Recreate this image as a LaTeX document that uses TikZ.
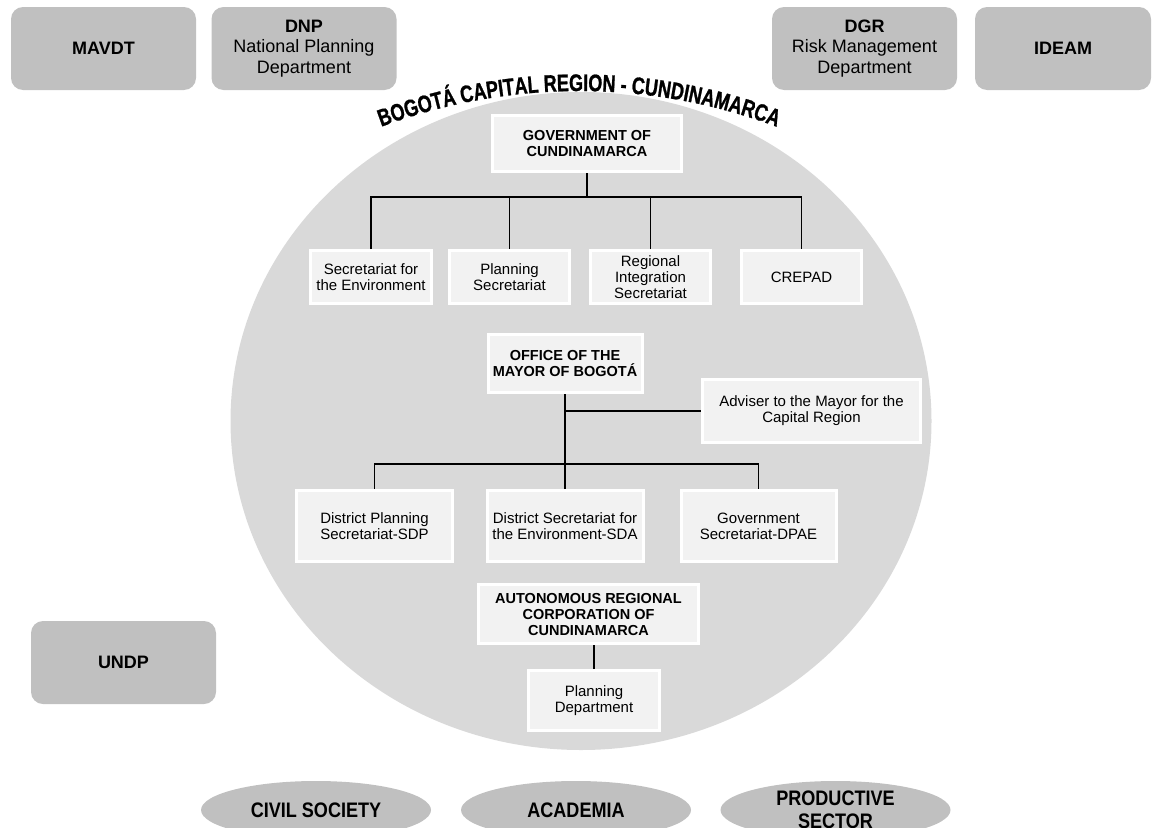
\documentclass[tikz,border=0pt]{standalone}
\usepackage{fontspec}
\setmainfont{Liberation Sans}
\newfontfamily\narrowbold{Liberation Sans}[UprightFont=* Bold, FakeStretch=0.86]
\newfontfamily\titlefont{Liberation Sans}[UprightFont=* Bold, FakeStretch=0.75, FakeBold=1]
\usetikzlibrary{shapes.geometric,decorations.text}
\definecolor{regionfill}{HTML}{D9D9D9}
\definecolor{boxfill}{HTML}{F2F2F2}
\definecolor{orgfill}{HTML}{C0C0C0}
\begin{document}
\begin{tikzpicture}[x=1pt,y=1pt,
  orgbox/.style={rectangle, rounded corners=12pt, fill=orgfill, inner sep=0pt, minimum width=185pt, minimum height=83pt, align=center, font=\fontsize{18}{20.5}\selectfont},
  ibox/.style={rectangle, fill=boxfill, draw=white, line width=3pt, inner sep=0pt, align=center, font=\fontsize{15}{16}\selectfont},
  bbox/.style={ibox, font=\bfseries\fontsize{14.5}{16}\selectfont},
  sector/.style={ellipse, fill=orgfill, inner sep=0pt, minimum width=230pt, minimum height=58pt, align=center, font=\narrowbold\fontsize{21}{23}\selectfont},
  trunk/.style={line width=2pt},
  link/.style={line width=1.1pt},
]
\useasboundingbox (0,0) rectangle (1156,-827);

% region background
\node[ellipse, fill=regionfill, minimum width=701pt, minimum height=658pt, inner sep=0pt] (region) at (581,-421) {};

% curved title
\path[decorate, decoration={text along path, text align=center,
  text={|\titlefont\fontsize{24}{24}\selectfont|BOGOTÁ CAPITAL REGION - CUNDINAMARCA}}]
  (579,-655.5) ++(110.86:564.5pt) arc[start angle=110.86, end angle=69.14, radius=564.5pt];

% outside organisations
\node[orgbox] (mavdt) at (103.5,-48.5) {\textbf{MAVDT}};
\node[orgbox] (dnp) at (304,-48.5) {\textbf{DNP}\\National Planning\\Department};
\node[orgbox] (dgr) at (864.5,-48.5) {\textbf{DGR}\\Risk Management\\Department};
\node[orgbox, minimum width=176pt] (ideam) at (1063,-48.5) {\textbf{IDEAM}};
\node[orgbox] (undp) at (123.5,-662.5) {\textbf{UNDP}};

% Cundinamarca government
\node[bbox, minimum width=189pt, minimum height=56pt] (gov) at (587,-143.5) {GOVERNMENT OF\\CUNDINAMARCA};
\node[ibox, minimum width=121pt, minimum height=53pt] (sec1) at (371,-277) {Secretariat for\\the Environment};
\node[ibox, minimum width=120pt, minimum height=53pt] (sec2) at (509.5,-277) {Planning\\Secretariat};
\node[ibox, minimum width=120pt, minimum height=53pt] (sec3) at (650.5,-277) {Regional\\Integration\\Secretariat};
\node[ibox, minimum width=120pt, minimum height=53pt] (crepad) at (801.5,-277) {CREPAD};

% Bogota
\node[bbox, minimum width=154pt, minimum height=58pt] (office) at (565,-363.5) {OFFICE OF THE\\MAYOR OF BOGOTÁ};
\node[ibox, minimum width=218pt, minimum height=63pt] (adviser) at (811.5,-411) {Adviser to the Mayor for the\\Capital Region};
\node[ibox, minimum width=156pt, minimum height=71pt] (dps) at (374.5,-526) {District Planning\\Secretariat-SDP};
\node[ibox, minimum width=156pt, minimum height=71pt] (dse) at (565,-526) {District Secretariat for\\the Environment-SDA};
\node[ibox, minimum width=155pt, minimum height=71pt] (gs) at (758.5,-526) {Government\\Secretariat-DPAE};

% CAR
\node[bbox, minimum width=220pt, minimum height=59pt] (car) at (588.5,-614) {AUTONOMOUS REGIONAL\\CORPORATION OF\\CUNDINAMARCA};
\node[ibox, minimum width=131pt, minimum height=60pt] (pd) at (594,-700.5) {Planning\\Department};

% sectors
\node[sector] (civil) at (316,-810) {CIVIL SOCIETY};
\node[sector] (academia) at (576,-810) {ACADEMIA};
\node[sector] (productive) at (835.5,-810) {PRODUCTIVE\\SECTOR};

% connectors
\coordinate (busA) at (587,-197);
\draw[trunk] (gov.south) -- (gov.south |- busA);
\draw[link] (sec1.north) |- (busA) -| (crepad.north);
\draw[link] (sec2.north) -- (sec2.north |- busA);
\draw[link] (sec3.north) -- (sec3.north |- busA);

\coordinate (busB) at (565,-464);
\draw[trunk] (office.south) -- (office.south |- busB);
\draw[link] (office.south |- adviser.west) -- (adviser.west);
\draw[link] (dps.north) |- (busB) -| (gs.north);
\draw[link] (dse.north) -- (dse.north |- busB);
\draw[link] (pd.north) -- (pd.north |- car.south);
\end{tikzpicture}
\end{document}
